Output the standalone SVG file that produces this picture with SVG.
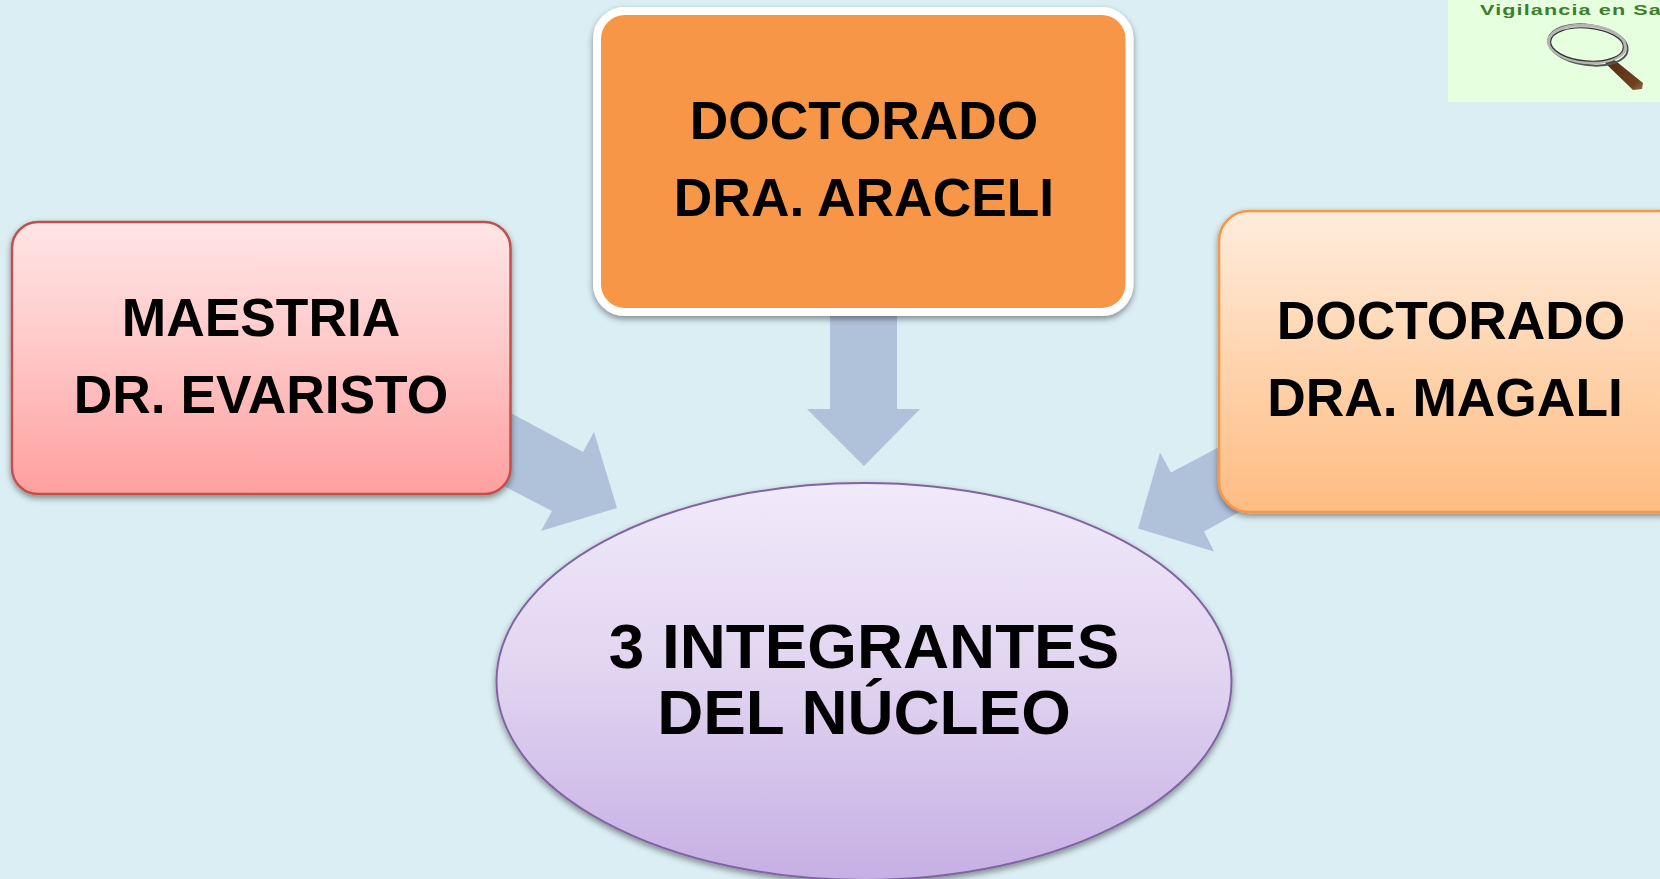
<svg xmlns="http://www.w3.org/2000/svg" width="1660" height="879" viewBox="0 0 1660 879">
<style>
text{font-family:"Liberation Sans",Arial,sans-serif;font-weight:700;fill:#000;text-anchor:middle}
.t{font-size:53.350px}
.e{font-size:63.800px}
.a{fill:#b0c1da}
</style>
<defs>
<linearGradient id="r" x1="0" y1="0" x2="0" y2="1"><stop offset="0" stop-color="#ffe5e5"/><stop offset=".45" stop-color="#ffc9c9"/><stop offset="1" stop-color="#ff9f9f"/></linearGradient>
<linearGradient id="o" x1="0" y1="0" x2="0" y2="1"><stop offset="0" stop-color="#ffecdd"/><stop offset=".5" stop-color="#ffd4ae"/><stop offset="1" stop-color="#ffbc82"/></linearGradient>
<linearGradient id="p" x1="0" y1="0" x2="0" y2="1"><stop offset="0" stop-color="#f1eafa"/><stop offset=".5" stop-color="#e0d3f0"/><stop offset="1" stop-color="#c6afe4"/></linearGradient>
<linearGradient id="h" x1="0" y1="0" x2="1" y2="1"><stop offset="0" stop-color="#4f2a14"/><stop offset=".8" stop-color="#6e4022"/><stop offset="1" stop-color="#94694a"/></linearGradient>
<filter id="s" x="-5%" y="-5%" width="110%" height="112%"><feDropShadow dx="0" dy="3" stdDeviation="3" flood-color="#000" flood-opacity=".42"/></filter>
</defs>
<rect width="1660" height="879" fill="#daeef3"/>
<g id="connectors">
<polygon class="a" points="830,316 897,316 897,409 920,409 864,466 807,409 830,409"/>
<polygon class="a" points="505,410 583,452 594,432 617,508 541,531 552,511 500,484"/>
<polygon class="a" points="1222,446 1171,473 1160,453 1138,529 1214,552 1204,532 1242,511" transform="translate(0 -.500)"/>
</g>
<g id="node-maestria">
<rect x="12" y="222" width="498.500" height="272" rx="26" fill="url(#r)" stroke="#c0504d" stroke-width="2.500" filter="url(#s)"/>
<text class="t" x="261" y="336">MAESTRIA</text>
<text class="t" x="261" y="413">DR. EVARISTO</text>
</g>
<g id="node-araceli">
<rect x="597" y="11" width="532.500" height="301" rx="28" fill="#f79646" stroke="#fff" stroke-width="8" filter="url(#s)"/>
<text class="t" x="864" y="139">DOCTORADO</text>
<text class="t" x="864" y="216">DRA. ARACELI</text>
</g>
<g id="node-magali">
<rect x="1219" y="211" width="470" height="301" rx="30" fill="url(#o)" stroke="#f79646" stroke-width="2.500" filter="url(#s)"/>
<text class="t" x="1451" y="339">DOCTORADO</text>
<text class="t" x="1445" y="416">DRA. MAGALI</text>
</g>
<g id="node-integrantes">
<ellipse cx="864" cy="681.500" rx="367.500" ry="198.500" fill="url(#p)" stroke="#8064a2" stroke-width="2" filter="url(#s)"/>
<text class="e" x="864" y="667.500">3 INTEGRANTES</text>
<text class="e" x="864" y="733.500">DEL NÚCLEO</text>
</g>
<g id="logo">
<rect x="1448" y="0" width="212" height="102" fill="#e6ffdf"/>
<text x="1480" y="14.500" textLength="182" lengthAdjust="spacingAndGlyphs" style="font-size:15.500px;fill:#3f7d2c;text-anchor:start;letter-spacing:.8px">Vigilancia en Sa</text>
<polygon points="1603,61 1612,58 1643,83 1642,89 1633,90" fill="url(#h)"/>
<ellipse cx="1588" cy="45" rx="40" ry="20" fill="none" stroke="#555" stroke-width="2" transform="rotate(8 1588 45)"/>
<ellipse cx="1587" cy="44" rx="38.500" ry="18.500" fill="none" stroke="#b5b5b5" stroke-width="3" transform="rotate(5 1587 44)"/>
<ellipse cx="1587" cy="44.500" rx="36.500" ry="16.500" fill="none" stroke="#333" stroke-width="1.200" transform="rotate(5 1587 44)"/>
</g>
</svg>
